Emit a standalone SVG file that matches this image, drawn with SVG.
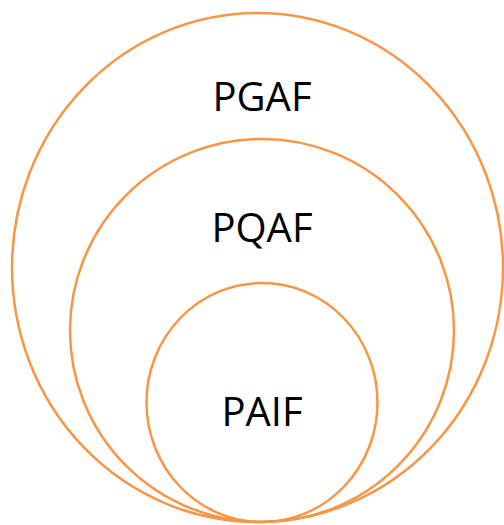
<svg xmlns="http://www.w3.org/2000/svg" width="504" height="525" viewBox="0 0 504 525">
  <style>
    .ring { fill: none; stroke: #F79646; stroke-width: 2.5; }
    .label { font-family: "Open Sans", "Liberation Sans", sans-serif; font-size: 40px; fill: #000; text-anchor: middle; }
  </style>
  <rect width="504" height="525" fill="#fff"/>
  <g id="pgaf">
    <ellipse class="ring" cx="257.5" cy="267.5" rx="245.5" ry="254.5"/>
    <text class="label" x="262" y="111">PGAF</text>
  </g>
  <g id="pqaf">
    <ellipse class="ring" cx="262" cy="330.5" rx="192" ry="191.5"/>
    <text class="label" x="262" y="242">PQAF</text>
  </g>
  <g id="paif">
    <ellipse class="ring" cx="262" cy="402.5" rx="115.5" ry="119.5"/>
    <text class="label" x="262" y="426">PAIF</text>
  </g>
</svg>
